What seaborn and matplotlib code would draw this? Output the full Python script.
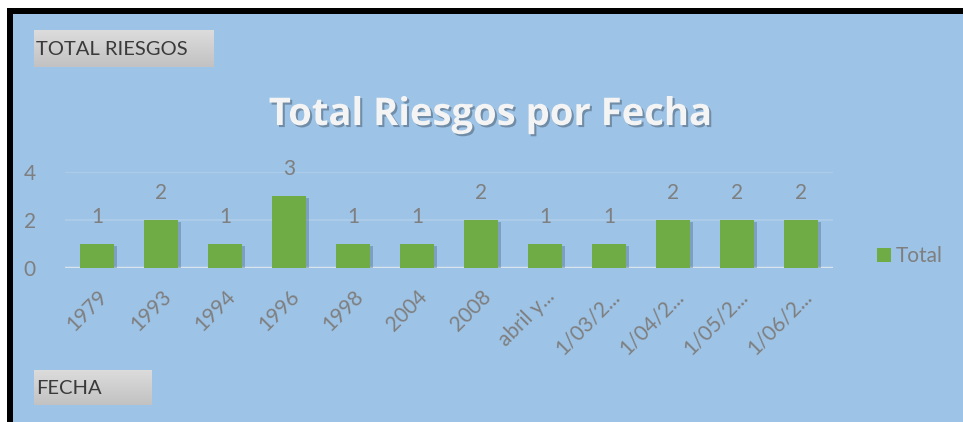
import numpy as np
import matplotlib
matplotlib.use("Agg")
import matplotlib.pyplot as plt
import matplotlib.patheffects as pe
from matplotlib.patches import Rectangle
import seaborn as sns

categories = ["1979", "1993", "1994", "1996", "1998", "2004", "2008",
              "abril y...", "1/03/2...", "1/04/2...", "1/05/2...", "1/06/2..."]
values = [1, 2, 1, 3, 1, 1, 2, 1, 1, 2, 2, 2]
yticks = [0, 2, 4]
title = "Total Riesgos por Fecha"
series_name = "Total"

sns.set_theme(style="white")
plt.rcParams["font.family"] = ["Lato", "DejaVu Sans"]

W, H = 963, 422
BG = "#9DC3E6"
GREEN = "#6FAC46"
GRAY = "#7F7F7F"
FS = 15

fig = plt.figure(figsize=(W / 100, H / 100), dpi=100)
fig.patch.set_facecolor("white")

def fx(px):
    return px / W

def fy(py):
    return 1 - py / H

# blue background and black frame
for (x0, y0, x1, y1, c) in [(13, 14, W, H, BG), (7, 8, W, 14, "black"), (7, 8, 13, H, "black")]:
    fig.add_artist(Rectangle((fx(x0), fy(y1)), fx(x1) - fx(x0), fy(y0) - fy(y1),
                             transform=fig.transFigure, facecolor=c, edgecolor="none",
                             zorder=-10))

# main axes
ax = fig.add_axes([fx(65), fy(268), fx(833) - fx(65), fy(172) - fy(268)])
ax.set_facecolor("none")
sns.barplot(x=categories, y=values, color=GREEN, width=0.52, ax=ax, label=series_name,
            saturation=1, linewidth=0, edgecolor="none")
for p in ax.patches:
    p.set_path_effects([pe.SimplePatchShadow(offset=(2.5, -1.5), shadow_rgbFace="#2A4560", alpha=0.28),
                        pe.Normal()])
ax.bar_label(ax.containers[0], labels=[str(v) for v in values], padding=12,
             color=GRAY, fontsize=FS)
ax.set_ylim(0, 4)
ax.set_xlim(-0.5, len(categories) - 0.5)
ax.set_yticks(yticks)
ax.set_yticklabels([str(t) for t in yticks], color=GRAY, fontsize=FS)
ax.tick_params(axis="y", length=0, pad=21)
ax.tick_params(axis="x", length=0, pad=13)
ax.set_xticks(range(len(categories)))
ax.set_xticklabels(categories, rotation=45, ha="right", va="top",
                   rotation_mode="anchor", color=GRAY, fontsize=FS)
for s in ax.spines.values():
    s.set_visible(False)
ax.axhline(0, color="#D9E3EE", lw=2.5, zorder=0.5)
for t in [2, 4]:
    ax.axhline(t, color="#AECDEA", lw=1.2, zorder=0.4)
ax.set_xlabel("")
ax.set_ylabel("")

axw = fx(833) - fx(65)
leg = ax.legend(loc="center left", bbox_to_anchor=((fx(869) - fx(65)) / axw, 0.12),
                frameon=False, fontsize=FS, handlelength=0.65, handleheight=0.65,
                handletextpad=0.25, borderaxespad=0)
for t in leg.get_texts():
    t.set_color(GRAY)
for h in leg.legend_handles:
    h.set_path_effects([])

# title
fig.text(fx(491), fy(115), title, ha="center", va="center", color="#F4F4F4",
         fontsize=27.5, fontweight="bold", fontfamily=["Open Sans", "DejaVu Sans"],
         path_effects=[pe.SimplePatchShadow(offset=(1.5, -1.5), shadow_rgbFace="#3A4A5A", alpha=0.45),
                       pe.Normal()])

# buttons
grad = np.linspace(0, 1, 50).reshape(-1, 1)
bcmap = matplotlib.colors.LinearSegmentedColormap.from_list("g", ["#DCDCDC", "#C2C2C2"])

def button(x0, y0, x1, y1, text):
    bax = fig.add_axes([fx(x0), fy(y1), fx(x1) - fx(x0), fy(y0) - fy(y1)])
    bax.imshow(grad, cmap=bcmap, aspect="auto", extent=[0, 1, 0, 1])
    bax.set_axis_off()
    fig.text(fx(x0 + 2), fy((y0 + y1) / 2 + 1), text, ha="left", va="center",
             color="#3A3A3A", fontsize=14.5, zorder=5)

button(34, 30, 213, 67, "TOTAL RIESGOS")
button(34, 370, 151, 405, "FECHA")

fig.savefig("out.png", dpi=100, facecolor=fig.get_facecolor())
